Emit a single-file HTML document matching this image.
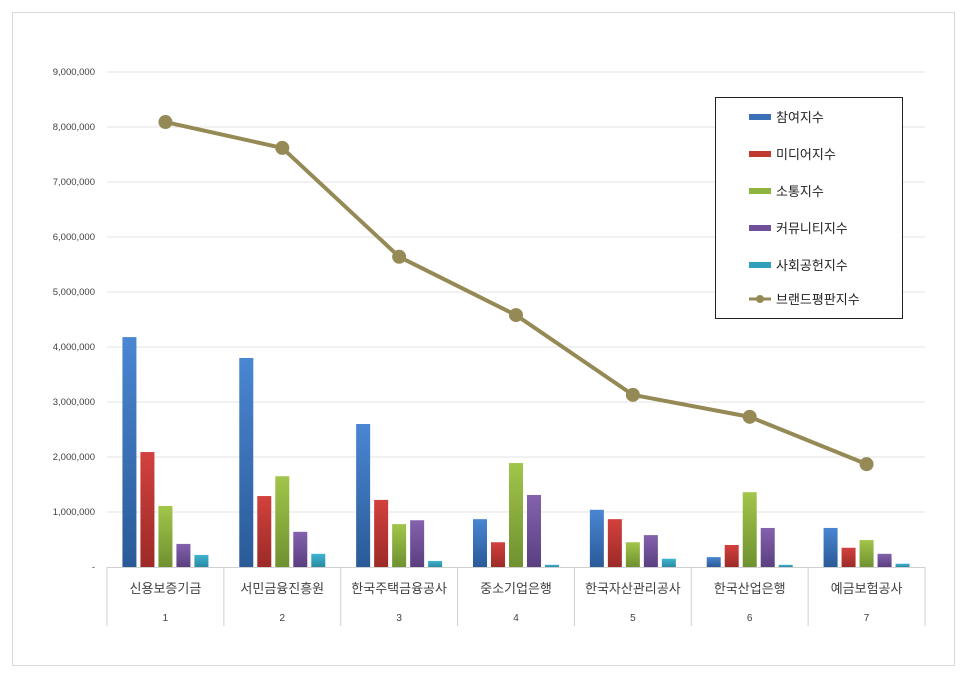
<!DOCTYPE html>
<html><head><meta charset="utf-8"><style>
body{margin:0;background:#fff;font-family:"Liberation Sans","Noto Sans CJK KR",sans-serif}
</style></head><body>
<svg width="966" height="677" xmlns="http://www.w3.org/2000/svg" font-family="Liberation Sans, Noto Sans CJK KR, sans-serif">
<defs>
<linearGradient id="gb" x1="0" y1="0" x2="0" y2="1"><stop offset="0" stop-color="#4a86d2"/><stop offset="1" stop-color="#2a5a98"/></linearGradient>
<linearGradient id="gr" x1="0" y1="0" x2="0" y2="1"><stop offset="0" stop-color="#d2413e"/><stop offset="1" stop-color="#9c2a27"/></linearGradient>
<linearGradient id="gg" x1="0" y1="0" x2="0" y2="1"><stop offset="0" stop-color="#a2c54a"/><stop offset="1" stop-color="#6f9130"/></linearGradient>
<linearGradient id="gp" x1="0" y1="0" x2="0" y2="1"><stop offset="0" stop-color="#8462ae"/><stop offset="1" stop-color="#5a3f80"/></linearGradient>
<linearGradient id="gc" x1="0" y1="0" x2="0" y2="1"><stop offset="0" stop-color="#3fb4d0"/><stop offset="1" stop-color="#2a8aa3"/></linearGradient>
</defs>
<rect x="12.5" y="12.5" width="942" height="653" fill="#fff" stroke="#d9d9d9"/>
<g id="grid"></g><g id="bars"></g><g id="line"></g><g id="xaxis"></g>
<g>
<rect x="715.5" y="97.5" width="187" height="221" fill="#fff" stroke="#222"/>
<g id="legend"></g>
</g>
</svg>
<script>
const categories=["신용보증기금","서민금융진흥원","한국주택금융공사","중소기업은행","한국자산관리공사","한국산업은행","예금보험공사"];
const ranks=["1","2","3","4","5","6","7"];
const seriesNames=["참여지수","미디어지수","소통지수","커뮤니티지수","사회공헌지수"];
const participation=[4180000,3800000,2600000,870000,1040000,180000,710000];
const media=[2090000,1290000,1220000,450000,870000,400000,350000];
const communication=[1110000,1650000,780000,1890000,450000,1360000,490000];
const community=[420000,640000,850000,1310000,580000,710000,240000];
const social=[220000,240000,110000,40000,150000,40000,60000];
const brandIndex=[8090000,7620000,5640000,4580000,3130000,2730000,1870000];
const yTicks=[0,1000000,2000000,3000000,4000000,5000000,6000000,7000000,8000000,9000000];
const lineName="브랜드평판지수";

const NS="http://www.w3.org/2000/svg";
const x0=107,x1=925,y0=567,y9=72,ymax=9000000;
const bw=(x1-x0)/categories.length;
const Y=v=>y0-(v/ymax)*(y0-y9);
const X=i=>x0+bw*(i+0.5);
function mk(t,a,p){const e=document.createElementNS(NS,t);for(const k in a)e.setAttribute(k,a[k]);p.appendChild(e);return e;}
const grid=document.getElementById('grid');
yTicks.forEach(v=>{
 if(v>0){const l=mk('line',{x1:x0,x2:x1,y1:Y(v),y2:Y(v),stroke:'#e3e3e3'},grid);
 
 }
 const t=mk('text',{x:95,y:Y(v)+3,'text-anchor':'end','font-size':'9.5',fill:'#404040'},grid);
 t.textContent=v===0?'-':v.toLocaleString('en-US');
 
 
});
const series=[participation,media,communication,community,social];
const fills=['url(#gb)','url(#gr)','url(#gg)','url(#gp)','url(#gc)'];
const bars=document.getElementById('bars');
categories.forEach((c,i)=>{
 series.forEach((s,j)=>{
  const r=mk('rect',{x:X(i)-43+j*18,y:Y(s[i]),width:14,height:y0-Y(s[i]),fill:fills[j]},bars);
  
  
 });
});
const lg=document.getElementById('line');
const pts=brandIndex.map((v,i)=>X(i)+','+Y(v)).join(' ');
const pl=mk('polyline',{points:pts,fill:'none',stroke:'#958a56','stroke-width':4},lg);


brandIndex.forEach((v,i)=>{
 const c=mk('circle',{cx:X(i),cy:Y(v),r:7,fill:'#958a56'},lg);
 
 
});
const xa=document.getElementById('xaxis');
mk('line',{x1:x0,x2:x1,y1:y0+.5,y2:y0+.5,stroke:'#d0d0d0'},xa);
for(let i=0;i<=categories.length;i++){mk('line',{x1:x0+bw*i,x2:x0+bw*i,y1:y0,y2:626,stroke:'#d0d0d0'},xa);}
categories.forEach((c,i)=>{
 const t=mk('text',{x:X(i),y:593,'text-anchor':'middle','font-size':'13',fill:'#404040'},xa);
 t.textContent=c;
 
 
 const n=mk('text',{x:X(i),y:621,'text-anchor':'middle','font-size':'10',fill:'#404040'},xa);
 n.textContent=ranks[i];
 
 
});
const leg=document.getElementById('legend');
const solid=['#3a70b8','#c0392f','#8fb540','#70509a','#32a0bb'];
seriesNames.forEach((n,j)=>{
 const y=117+j*37;
 mk('rect',{x:749,y:y-3,width:22,height:6,fill:solid[j]},leg);
 const t=mk('text',{x:776,y:y+5,'font-size':'13',fill:'#222'},leg);
 t.textContent=n;
 
 
});
mk('line',{x1:749,x2:771,y1:299,y2:299,stroke:'#958a56','stroke-width':3},leg);
mk('circle',{cx:760,cy:299,r:4,fill:'#958a56'},leg);
const lt=mk('text',{x:776,y:304,'font-size':'13',fill:'#222'},leg);
lt.textContent=lineName;


</script>
</body></html>
